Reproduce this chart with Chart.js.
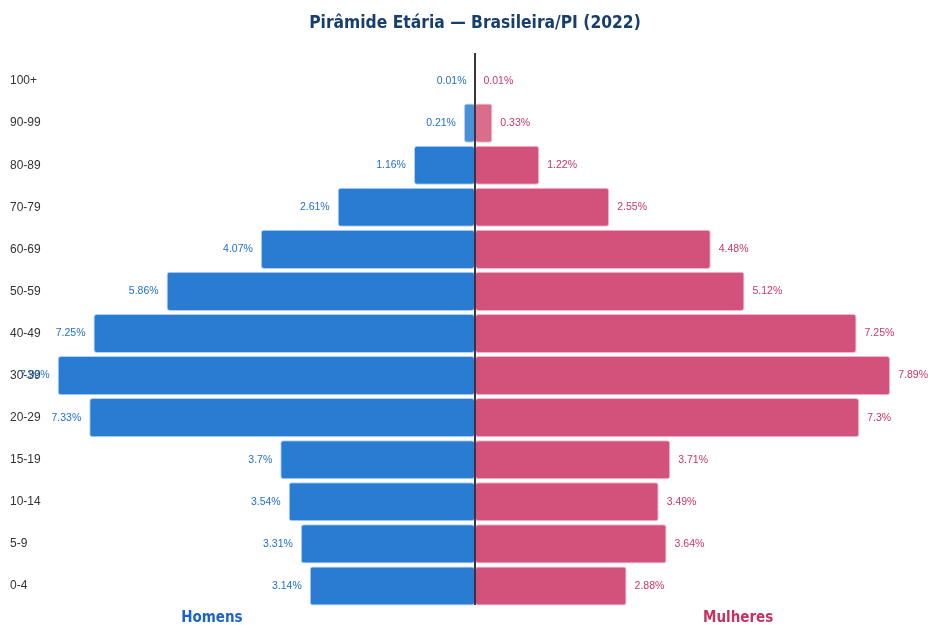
<!DOCTYPE html>
<html lang="pt-BR">
<head>
<meta charset="utf-8">
<title>Pirâmide Etária</title>
<script src="https://cdn.jsdelivr.net/npm/chart.js@4.4.1/dist/chart.umd.min.js"></script>
<style>
    html, body { margin: 0; padding: 0; background: #fff; }
    #wrap { width: 928px; height: 625px; position: relative; }
</style>
</head>
<body>
<div id="wrap"><canvas id="pyramidChart"></canvas></div>
<script>
// ===== DATA =====
const AGE_GROUPS = ['100+', '90-99', '80-89', '70-79', '60-69', '50-59', '40-49', '30-39', '20-29', '15-19', '10-14', '5-9', '0-4'];
const MALE_PCT = [0.01, 0.21, 1.16, 2.61, 4.07, 5.86, 7.25, 7.93, 7.33, 3.7, 3.54, 3.31, 3.14];
const FEMALE_PCT = [0.01, 0.33, 1.22, 2.55, 4.48, 5.12, 7.25, 7.89, 7.3, 3.71, 3.49, 3.64, 2.88];
const AXIS_LIMIT = 8;
const TITLE = 'Pirâmide Etária — Brasileira/PI (2022)';

const MALE_COLOR = '#2a7cd3';
const MALE_LIGHT = '#4a90d8';
const FEMALE_COLOR = '#d2527b';
const FEMALE_LIGHT = '#da6c8c';

// lighter fill on the tiny top groups
const maleFill = MALE_PCT.map((v, i) => (i < 2 ? MALE_LIGHT : MALE_COLOR));
const femaleFill = FEMALE_PCT.map((v, i) => (i < 2 ? FEMALE_LIGHT : FEMALE_COLOR));

// Value labels next to each bar end
const barLabels = {
    id: 'barLabels',
    afterDatasetsDraw(chart) {
        const ctx = chart.ctx;
        ctx.save();
        ctx.font = '10.5px "Liberation Sans", Arial, sans-serif';
        ctx.textBaseline = 'middle';
        chart.getDatasetMeta(0).data.forEach((bar, i) => {
            ctx.fillStyle = '#1f6fce';
            ctx.textAlign = 'right';
            ctx.fillText(MALE_PCT[i] + '%', bar.x - 8, bar.y);
        });
        chart.getDatasetMeta(1).data.forEach((bar, i) => {
            ctx.fillStyle = '#cc3566';
            ctx.textAlign = 'left';
            ctx.fillText(FEMALE_PCT[i] + '%', bar.x + 8, bar.y);
        });
        ctx.restore();
    }
};

// Zero line, title (centred over the pyramid) and side captions
const centerLine = {
    id: 'centerLine',
    afterDraw(chart) {
        const ctx = chart.ctx;
        const area = chart.chartArea;
        const x0 = chart.scales.x.getPixelForValue(0);
        ctx.save();
        ctx.strokeStyle = '#3b3340';
        ctx.lineWidth = 2;
        ctx.beginPath();
        ctx.moveTo(x0, area.top - 7);
        ctx.lineTo(x0, area.bottom - 2);
        ctx.stroke();

        ctx.textAlign = 'center';
        ctx.textBaseline = 'middle';
        ctx.font = 'bold 17.3px "DejaVu Sans Condensed", "DejaVu Sans", sans-serif';
        ctx.fillStyle = '#173f6e';
        ctx.fillText(TITLE, x0, 24);

        ctx.font = 'bold 15px "DejaVu Sans Condensed", "DejaVu Sans", sans-serif';
        ctx.fillStyle = '#1b64c4';
        ctx.fillText('Homens', chart.scales.x.getPixelForValue(-5), 618);
        ctx.fillStyle = '#c7305f';
        ctx.fillText('Mulheres', chart.scales.x.getPixelForValue(5), 618);
        ctx.restore();
    }
};

const pyramidChart = new Chart(document.getElementById('pyramidChart'), {
    type: 'bar',
    data: {
        labels: AGE_GROUPS,
        datasets: [
            {
                label: 'Homens',
                data: MALE_PCT.map(v => -v),
                backgroundColor: maleFill,
                borderColor: 'rgba(170, 205, 240, 0.9)',
                borderWidth: 1,
                borderRadius: 3,
                borderSkipped: false,
                barPercentage: 0.93,
                categoryPercentage: 1
            },
            {
                label: 'Mulheres',
                data: FEMALE_PCT,
                backgroundColor: femaleFill,
                borderColor: 'rgba(240, 175, 198, 0.9)',
                borderWidth: 1,
                borderRadius: 3,
                borderSkipped: false,
                barPercentage: 0.93,
                categoryPercentage: 1
            }
        ]
    },
    options: {
        indexAxis: 'y',
        responsive: true,
        maintainAspectRatio: false,
        animation: false,
        layout: {
            padding: { left: 10, right: 32, top: 60, bottom: 18 }
        },
        plugins: {
            legend: { display: false },
            tooltip: { enabled: false },
            title: { display: false }
        },
        scales: {
            x: {
                display: false,
                stacked: true,
                min: -AXIS_LIMIT,
                max: AXIS_LIMIT
            },
            y: {
                stacked: true,
                grid: { display: false },
                border: { display: false },
                ticks: {
                    color: '#333',
                    crossAlign: 'far',
                    padding: 0,
                    font: { family: '"Liberation Sans", Arial, sans-serif', size: 12 }
                },
                afterFit(scale) {
                    scale.width = 44;
                }
            }
        }
    },
    plugins: [barLabels, centerLine]
});
</script>
</body>
</html>
